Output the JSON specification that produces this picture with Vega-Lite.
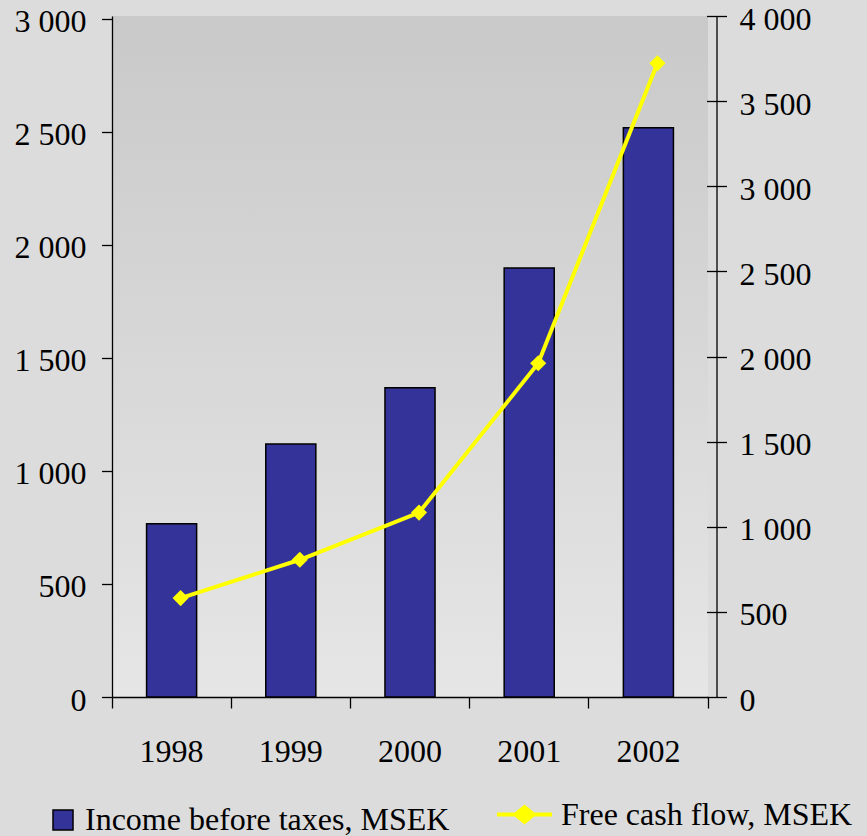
{
  "$schema": "https://vega.github.io/schema/vega-lite/v6.json",
  "width": 596,
  "height": 681,
  "autosize": {"type": "none"},
  "padding": {"left": 112, "top": 16, "right": 159, "bottom": 139},
  "background": "#dcdcdc",
  "config": {
    "view": {
      "stroke": null,
      "fill": {
        "gradient": "linear", "x1": 0, "y1": 0, "x2": 0, "y2": 1,
        "stops": [{"offset": 0, "color": "#c9c9c9"}, {"offset": 1, "color": "#e6e6e6"}]
      }
    },
    "font": "Liberation Serif",
    "axis": {
      "labelFont": "Liberation Serif", "labelFontSize": 32, "labelColor": "#000000",
      "domainColor": "#000000", "tickColor": "#000000", "domainWidth": 1.3, "tickWidth": 1.3,
      "grid": false
    },
    "legend": {
      "labelFont": "Liberation Serif", "labelFontSize": 32, "labelColor": "#000000",
      "padding": 0, "labelLimit": 600
    }
  },
  "data": {
    "values": [
      {"year": "1998", "income": 766, "fcf": 581},
      {"year": "1999", "income": 1119, "fcf": 806},
      {"year": "2000", "income": 1368, "fcf": 1083},
      {"year": "2001", "income": 1897, "fcf": 1960},
      {"year": "2002", "income": 2518, "fcf": 3722}
    ]
  },
  "encoding": {
    "x": {
      "field": "year", "type": "ordinal",
      "scale": {"paddingInner": 0, "paddingOuter": 0},
      "axis": {"title": null, "labelAngle": 0, "bandPosition": 1, "tickExtra": true, "tickSize": 11, "labelPadding": 28}
    }
  },
  "layer": [
    {
      "mark": {"type": "bar", "stroke": "#000000", "strokeWidth": 1.5, "width": {"band": 0.42}},
      "encoding": {
        "y": {
          "field": "income", "type": "quantitative",
          "scale": {"domain": [0, 3012], "nice": false},
          "axis": {
            "title": null, "orient": "left", "values": [0, 500, 1000, 1500, 2000, 2500, 3000],
            "tickSize": 10.5, "labelPadding": 15.5, "labelOffset": 3,
            "labelExpr": "replace(format(datum.value, ','), ',', ' ')"
          }
        },
        "fill": {
          "datum": "Income before taxes, MSEK", "type": "nominal",
          "scale": {"range": ["#333399"]},
          "legend": {
            "title": null, "orient": "none", "legendX": -65, "legendY": 788,
            "symbolType": "square", "symbolSize": 400, "labelOffset": 6,
            "symbolStrokeColor": "#000000", "symbolStrokeWidth": 1.5,
            "encode": {"symbols": {"update": {"stroke": {"value": "#000000"}, "strokeWidth": {"value": 1.5}}}}
          }
        }
      }
    },
    {
      "layer": [
        {
          "mark": {"type": "line", "strokeWidth": 4, "xOffset": 9},
          "encoding": {
            "y": {
              "field": "fcf", "type": "quantitative",
              "scale": {"domain": [0, 4000], "nice": false},
              "axis": {
                "title": null, "orient": "right", "values": [0, 500, 1000, 1500, 2000, 2500, 3000, 3500, 4000],
                "offset": 8.5, "tickSize": 10, "labelPadding": 12.5, "labelOffset": 3,
                "labelExpr": "replace(format(datum.value, ','), ',', ' ')"
              }
            },
            "stroke": {
              "datum": "Free cash flow, MSEK", "type": "nominal",
              "scale": {"range": ["#ffff00"]},
              "legend": {
                "title": null, "orient": "none", "legendX": 383, "legendY": 769,
                "symbolType": "M-1,0L1,0M0,-0.27L0.33,0L0,0.27L-0.33,0Z",
                "symbolSize": 3025, "labelOffset": 7, "symbolStrokeWidth": 4,
                "encode": {"symbols": {"update": {"fill": {"value": "#ffff00"}, "stroke": {"value": "#ffff00"}, "strokeWidth": {"value": 4}, "opacity": {"value": 1}}}}
              }
            }
          }
        },
        {
          "mark": {"type": "point", "shape": "diamond", "filled": true, "fill": "#ffff00", "color": "#ffff00", "size": 260, "opacity": 1, "strokeWidth": 0, "xOffset": 9},
          "encoding": {
            "y": {
              "field": "fcf", "type": "quantitative",
              "scale": {"domain": [0, 4000], "nice": false},
              "axis": {
                "title": null, "orient": "right", "values": [0, 500, 1000, 1500, 2000, 2500, 3000, 3500, 4000],
                "offset": 8.5, "tickSize": -10, "labels": false, "domain": false
              }
            }
          }
        }
      ],
      "resolve": {"scale": {"y": "shared"}, "axis": {"y": "independent"}}
    }
  ],
  "resolve": {"scale": {"y": "independent"}}
}
